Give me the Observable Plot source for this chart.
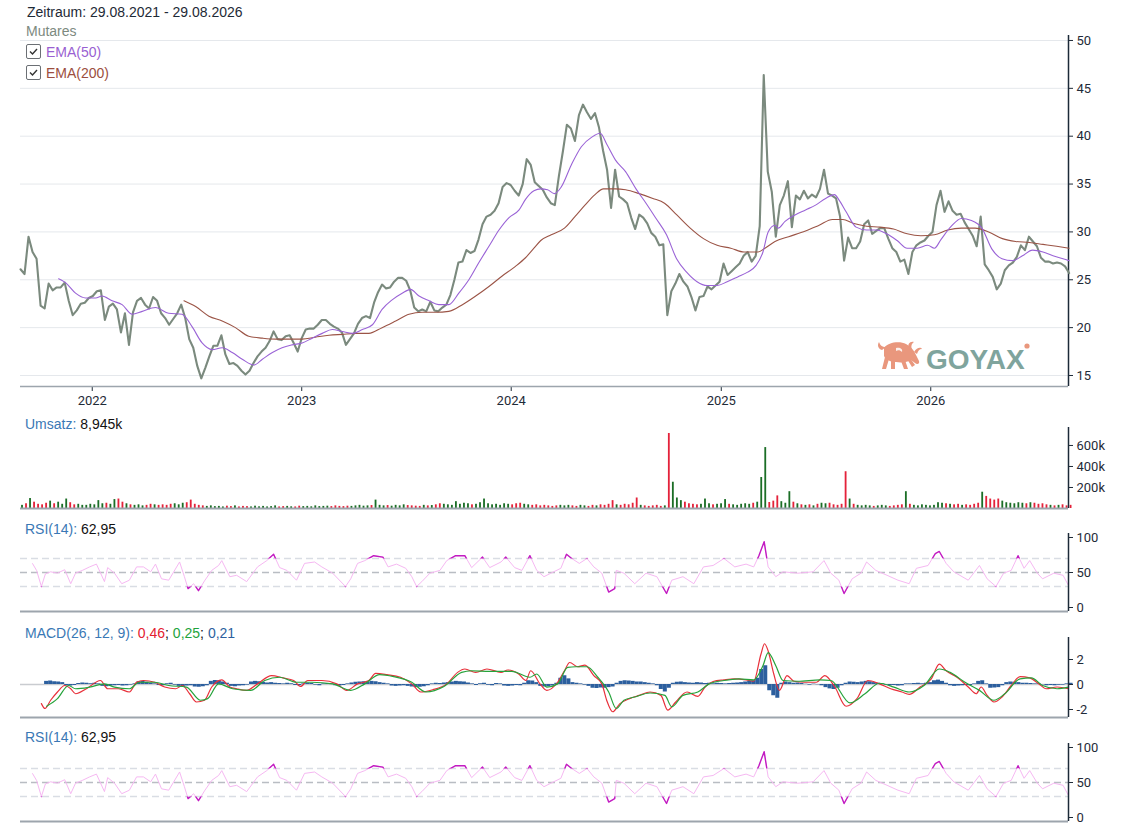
<!DOCTYPE html>
<html>
<head>
<meta charset="utf-8">
<script src="https://cdn.jsdelivr.net/npm/d3@7"></script>
<script src="https://cdn.jsdelivr.net/npm/@observablehq/plot@0.6"></script>
<style>
  html, body { margin: 0; padding: 0; background: #fff; }
  #wrap { position: relative; width: 1140px; height: 826px; overflow: hidden; font-family: "Liberation Sans", Arial, sans-serif; }
  .panel { position: absolute; left: 0; }
  .lbl { position: absolute; left: 25px; font-size: 14px; white-space: nowrap; z-index: 5; color: #111; }
  .blue { color: #3a78b5; }
  .chk { display: inline-block; width: 13px; height: 13px; border: 1px solid #6b6f74; border-radius: 2px; vertical-align: -2px; margin-right: 5px; position: relative; background: #fff; }
  .chk svg { position: absolute; left: 1px; top: 1px; }
</style>
</head>
<body>
<div id="wrap">
  <div class="lbl" style="top:4px;left:27px;color:#1e2a36;">Zeitraum: 29.08.2021 - 29.08.2026</div>
  <div class="lbl" style="top:23px;left:26px;color:#7d8a7f;">Mutares</div>
  <div class="lbl" style="top:44px;left:26px;color:#9a5fd2;"><span class="chk"><svg width="11" height="11" viewBox="0 0 11 11"><path d="M2,5.5 L4.5,8 L9,3" fill="none" stroke="#333" stroke-width="1.4"/></svg></span>EMA(50)</div>
  <div class="lbl" style="top:65px;left:26px;color:#9c4e40;"><span class="chk"><svg width="11" height="11" viewBox="0 0 11 11"><path d="M2,5.5 L4.5,8 L9,3" fill="none" stroke="#333" stroke-width="1.4"/></svg></span>EMA(200)</div>
  <div class="lbl" style="top:416px;"><span class="blue">Umsatz:</span> 8,945k</div>
  <div class="lbl" style="top:521px;"><span class="blue">RSI(14):</span> 62,95</div>
  <div class="lbl" style="top:625px;"><span class="blue">MACD(26, 12, 9):</span> <span style="color:#e3202f">0,46</span>; <span style="color:#1ea33c">0,25</span>; <span style="color:#2c5f9e">0,21</span></div>
  <div class="lbl" style="top:729px;"><span class="blue">RSI(14):</span> 62,95</div>
  <div id="logo" style="position:absolute;left:876px;top:338px;z-index:4;">
    <svg width="160" height="38" viewBox="0 0 160 38">
      <g fill="#e9977d">
        <path d="M6,12 C2,11 1,7 3,4 C4,7 6,9 10,9 Z"/>
        <path d="M8,10 C12,4 24,3 30,6 C34,8 37,11 39,15 L43,23 C44,26 41,27 39,25 L35,22 C32,24 26,25 20,24 C15,24 10,22 8,18 Z"/>
        <path d="M33,11 C31,6 34,3 38,4 C35,6 35,9 36,12 Z"/>
        <path d="M38,14 C41,9 45,9 46,11 C43,11 42,13 41,16 Z"/>
        <path d="M9,19 L6,31 L10,31 L13,21 Z"/>
        <path d="M15,22 L15,31 L19,31 L19,23 Z"/>
        <path d="M25,23 L28,31 L32,31 L29,22 Z"/>
        <path d="M31,21 L36,29 L39,27 L34,20 Z"/>
      </g>
      <g fill="#fff" opacity="0.85">
        <path d="M20,10 C24,9 27,11 26,14 C24,12 22,12 20,13 Z"/>
      </g>
      <text x="50" y="31" font-family="Liberation Sans, Arial, sans-serif" font-weight="bold" font-size="28" fill="#7fa49d">GOYAX</text>
      <circle cx="151" cy="8" r="2.6" fill="#e9977d"/>
    </svg>
  </div>
  <div id="p-main" class="panel" style="top:0px;"></div>
  <div id="p-vol" class="panel" style="top:410px;"></div>
  <div id="p-rsi1" class="panel" style="top:515px;"></div>
  <div id="p-macd" class="panel" style="top:620px;"></div>
  <div id="p-rsi2" class="panel" style="top:725px;"></div>
</div>
<script>
// ---------- DATA (weekly steps from 29.08.2021) ----------
const startDate = "2021-08-29";
const endDate = "2026-08-29";
const yearTicks = ["2022-01-01", "2023-01-01", "2024-01-01", "2025-01-01", "2026-01-01"];
const priceTicks = [15, 20, 25, 30, 35, 40, 45, 50];
const volTicks = [200, 400, 600];
const rsiTicks = [0, 50, 100];
const rsiLevels = [30, 50, 70];
const macdTicks = [-2, 0, 2];

// Mutares close, one value per week (index = week since start)
const price = [
  26.1, 25.6, 29.5, 27.9, 27.2, 22.3, 22.0, 24.6, 23.9, 24.2,
  24.2, 24.7, 22.8, 21.3, 21.8, 22.5, 22.6, 23.1, 23.3, 23.8,
  23.9, 20.8, 22.2, 22.5, 21.9, 19.5, 21.5, 18.2, 21.6, 22.8,
  23.1, 22.4, 22.0, 23.2, 22.8, 21.5, 21.0, 20.3, 20.9, 21.5,
  22.4, 21.0, 18.8, 17.9, 16.0, 14.7, 15.8, 17.0, 18.1, 18.1,
  19.2, 17.2, 16.2, 16.3, 16.0, 15.5, 15.1, 15.5, 16.3, 17.0,
  17.5, 17.9, 18.6, 19.6, 18.8, 18.7, 19.1, 19.2, 18.4, 17.5,
  18.9, 19.8, 19.9, 19.9, 20.3, 20.8, 20.8, 20.4, 20.1, 19.9,
  19.5, 18.2, 18.8, 19.4, 20.4, 21.0, 21.2, 21.0, 22.6, 23.7,
  24.5, 24.1, 24.2, 24.8, 25.2, 25.2, 24.9, 23.9, 22.1, 21.7,
  21.9, 21.7, 22.7, 21.8, 21.7, 22.1, 22.4, 23.4, 25.0, 26.8,
  26.9, 28.1, 27.8, 28.0, 29.2, 30.8, 31.6, 31.8, 32.2, 33.0,
  34.7, 35.1, 34.9, 34.3, 33.8, 35.0, 37.6, 37.0, 35.2, 34.8,
  34.4, 33.6, 33.0, 32.8, 35.8, 38.4, 41.2, 40.8, 39.5, 42.2,
  43.3, 42.5, 41.8, 42.4, 40.9, 38.5, 36.5, 32.5, 36.5, 33.7,
  33.4, 33.0, 31.5, 30.3, 31.8, 31.5, 30.9, 29.9, 29.5, 28.6,
  28.7, 21.3, 23.8, 24.6, 25.6, 24.8, 24.3, 23.2, 21.8, 23.2,
  23.3, 24.3, 24.0, 24.4, 24.8, 26.7, 25.5, 25.9, 26.3, 26.7,
  27.5, 27.9, 26.9, 27.5, 30.6, 46.4, 36.3, 34.2, 29.5, 32.8,
  33.8, 35.3, 30.5, 33.8, 33.4, 34.3, 33.5, 33.9, 33.6, 34.5,
  36.5, 34.0, 33.8, 33.5, 31.6, 27.0, 29.4, 28.3, 28.3, 29.0,
  30.8, 31.2, 29.8, 30.1, 30.4, 30.4, 29.3, 28.3, 27.9, 26.9,
  27.1, 25.6, 27.9, 28.6, 28.9, 29.1, 29.6, 30.0, 32.8, 34.3,
  32.1, 33.2, 32.2, 31.8, 31.9, 31.0, 30.3, 29.6, 28.5, 31.6,
  26.6, 26.0, 25.3, 24.0, 24.6, 26.0, 26.5, 26.8, 27.4, 28.6,
  28.1, 29.5, 29.0, 28.5, 27.3, 26.9, 26.9, 26.7, 26.8, 26.7,
  26.4, 25.7
];

// EMA(50): week index and value
const ema50Weeks = [9.5,11.2,13.7,16.2,18.7,20.3,22.8,25.3,27.8,30.3,33.6,36.9,40.2,42.7,45.2,47.7,50.2,52.7,55.2,58.1,60.2,62.7,65.1,67.6,70.1,72.6,75.1,77.6,80.1,82.6,85.1,87.6,90.0,92.5,95.0,97.1,99.2,101.7,104.1,106.6,109.1,111.6,114.1,116.6,119.1,121.6,124.1,125.7,127.8,
  129.5,131.2,132.9,134.6,137.1,139.6,142.2,144.3,146.0,148.1,150.6,153.2,155.7,158.2,160.8,163.3,165.8,168.4,170.9,173.4,175.9,178.5,181.0,183.1,184.8,186.1,187.8,188.6,190.3,192.9,195.4,197.9,200.4,202.6,203.8,205.5,208.0,210.6,213.1,215.6,218.2,220.7,223.2,225.8,227.5,229.1,231.7,234.2,236.7,239.3,241.8,244.3,246.9,249.4,251.9,254.5,257.0,259.5,261.0];
const ema50 = [25.1,24.7,23.6,23.1,23.1,23.3,22.8,22.4,21.4,21.7,22.1,21.5,21.4,20.1,18.4,17.7,17.9,17.4,16.7,16.1,16.7,17.4,17.9,18.2,18.4,18.9,19.4,19.8,19.6,19.4,19.8,20.3,21.9,22.9,23.6,24.0,23.3,22.8,22.4,22.4,23.6,25.0,26.8,28.5,30.2,31.5,32.3,33.4,34.3,
  34.5,34.4,34.0,34.7,37.0,38.9,39.9,40.3,39.1,37.5,36.3,34.5,33.0,31.4,29.7,27.2,25.8,24.8,24.4,24.4,24.8,25.3,25.8,26.5,27.9,30.0,30.7,30.4,31.1,31.8,32.3,32.8,33.5,33.9,33.3,32.1,30.5,30.2,30.2,29.8,29.1,28.3,28.3,28.6,28.3,29.2,30.6,31.4,31.2,30.4,28.2,27.2,27.0,27.5,28.1,27.9,27.5,27.2,27.0];

// EMA(200)
const ema200Weeks = [40.7,43.6,46.9,50.2,53.5,56.8,60.2,63.5,66.8,70.1,73.4,76.8,80.1,83.4,86.7,90.0,93.4,96.7,100.0,103.3,106.6,110.0,113.3,116.6,119.9,123.2,125.7,127.8,
  129.5,132.1,135.4,138.0,140.5,143.0,145.1,148.1,150.6,154.0,157.4,160.3,163.3,166.7,170.0,173.4,176.8,180.1,183.6,185.3,187.8,191.2,195.4,198.8,202.1,204.7,207.2,210.6,213.9,217.3,220.7,224.1,227.5,230.8,234.2,237.6,241.0,244.4,247.7,251.1,254.5,257.9,261.0];
const ema200 = [22.8,22.2,21.2,20.7,20.0,19.1,18.9,18.8,18.8,18.8,19.0,19.2,19.3,19.4,19.4,20.0,20.7,21.4,21.6,21.6,21.7,22.4,23.3,24.3,25.4,26.4,27.3,28.3,
  29.1,29.7,30.4,31.6,32.8,33.9,34.5,34.5,34.4,34.0,33.5,33.0,31.8,30.4,29.3,28.6,28.3,27.9,27.9,28.3,29.0,29.5,30.1,30.7,31.3,31.3,30.9,30.6,30.5,30.3,29.8,29.6,29.7,30.2,30.4,30.4,30.0,29.3,29.0,28.9,28.7,28.5,28.3];

// Umsatz (thousand shares), one value per week
const volume = [
  30, 45, 95, 60, 40, 35, 50, 70, 45, 60,
  40, 90, 55, 35, 40, 30, 30, 40, 35, 75,
  45, 50, 40, 85, 90, 60, 45, 35, 30, 35,
  25, 30, 40, 35, 30, 35, 30, 40, 45, 35,
  50, 55, 80, 40, 30, 25, 20, 25, 18, 20,
  15, 22, 18, 25, 15, 20, 18, 15, 22, 16,
  20, 15, 18, 25, 15, 18, 20, 16, 15, 22,
  18, 20, 16, 25, 18, 20, 22, 18, 25, 20,
  18, 22, 20, 25, 30, 22, 25, 28, 80, 30,
  25, 28, 22, 30, 25, 35, 28, 25, 22, 20,
  30, 25, 28, 35, 45, 40, 35, 30, 65, 40,
  50, 45, 35, 40, 55, 90, 45, 35, 40, 30,
  45, 40, 35, 45, 50, 40, 35, 30, 35, 25,
  30, 25, 20, 25, 30, 25, 30, 25, 20, 30,
  25, 20, 30, 25, 35, 30, 40, 75, 35, 30,
  40, 35, 50, 100, 30, 25, 20, 25, 30, 20,
  25, 714, 250, 100, 75, 60, 45, 40, 35, 40,
  90, 45, 35, 40, 45, 85, 40, 35, 30, 40,
  45, 40, 50, 60, 295, 580, 57, 70, 120, 65,
  50, 160, 60, 45, 35, 30, 35, 25, 40, 50,
  45, 50, 35, 30, 40, 350, 90, 40, 30, 25,
  30, 25, 20, 25, 30, 25, 20, 25, 30, 35,
  160, 40, 30, 25, 35, 30, 25, 30, 55, 50,
  45, 40, 35, 40, 30, 35, 30, 40, 50, 155,
  115, 90, 80, 90, 70, 55, 50, 45, 55, 50,
  45, 55, 50, 40, 45, 35, 30, 25, 30, 35,
  25, 30
];

// RSI(14)
const rsiWeeks = [3.0,4.0,5.2,6.2,7.5,9.2,11.0,12.5,13.7,15.4,17.2,18.9,20.9,21.7,23.4,25.2,27.1,28.9,30.6,32.4,33.6,35.1,36.9,39.6,40.8,41.7,43.1,44.3,45.8,47.6,49.3,50.1,52.1,53.8,56.3,59.0,61.3,63.0,64.5,66.3,68.7,70.7,73.2,75.0,77.7,80.9,82.2,83.9,85.7,87.9,90.2,91.5,93.6,95.9,97.4,98.6,99.9,101.9,104.4,106.1,108.3,110.6,112.3,115.0,116.8,119.6,120.8,123.0,124.8,126.8,128.5,130.3,132.0,
  134.5,135.9,137.2,139.1,141.0,142.7,144.7,146.4,147.9,148.3,150.2,152.9,155.7,158.4,160.8,162.1,164.9,167.6,170.0,172.4,175.1,177.8,180.6,182.5,183.8,185.1,186.1,188.0,189.8,193.5,197.3,200.0,201.7,203.7,205.0,207.0,209.2,210.6,212.9,215.7,218.4,221.2,223.0,225.9,227.7,228.7,230.4,232.3,235.9,238.7,240.6,242.8,244.7,246.6,248.3,249.8,251.2,253.1,254.4,257.2,259.5,260.8];
const rsi = [62.7,53,30,48,51,49,54,34,49,53,58,62,37,57,49,34,39,58,58,51,62,41,39,65,44,27,34,24,38,53,60,67,44,46,37,58,67,76,57,53,39,63,65,58,49,30,41,63,67,74,72,58,62,56,44,30,37,49,53,67,74,74,57,72,57,65,72,57,53,74,53,44,49,
  56,76,70,63,70,58,49,22,27,53,49,34,49,44,20,39,44,34,58,60,70,58,62,58,74,94,58,44,51,49,51,67,49,39,20,41,49,65,53,46,39,34,56,60,77,80,63,51,39,60,41,30,49,53,74,56,67,49,41,49,46,32];

// MACD line
const macdWeeks = [5.2,6.1,7.5,9.2,11.0,12.5,13.7,16.4,19.9,21.7,24.4,27.1,28.9,30.6,33.4,35.9,38.6,40.3,42.1,43.8,45.8,47.6,50.1,52.1,53.8,56.3,59.0,62.5,65.3,68.0,69.7,71.5,75.0,78.7,81.2,83.9,86.7,88.4,91.2,94.6,97.4,99.6,102.6,106.1,108.8,110.6,113.3,116.1,119.6,121.3,124.0,125.8,127.0,129.3,131.0,133.7,
  135.4,136.7,138.7,140.5,142.7,144.7,145.9,147.4,149.2,151.6,154.0,156.7,159.4,161.1,163.1,165.9,168.6,170.4,172.4,175.1,177.8,180.6,182.5,184.3,185.2,186.1,187.5,188.9,190.8,192.5,195.3,198.1,200.2,202.7,205.5,208.2,210.9,213.8,216.6,219.4,221.2,223.9,226.7,228.7,230.4,233.1,235.9,237.9,239.1,240.6,242.3,244.3,246.6,248.8,251.2,253.5,255.3,258.0,260.8];
const macd = [-1.53,-1.92,-1.26,-0.6,-0.08,-0.34,-0.74,-0.34,0.32,-0.34,-0.34,-0.6,0.18,0.32,0.18,-0.2,-0.34,-0.08,-0.74,-1.4,-1.26,-0.2,0.37,-0.2,-0.34,-0.47,0.05,0.71,0.53,0.32,-0.16,0.32,0.32,0.05,-0.47,0.05,0.32,0.89,0.79,0.58,0.05,-0.6,-0.42,0.05,0.97,1.24,0.97,1.24,0.97,1.16,0.84,0.32,1.1,0.05,-0.47,0.18,
  1.1,1.76,1.42,1.55,0.71,0.05,-1.26,-2.18,-1.53,-1.13,-0.87,-0.6,-0.87,-2.05,-1.4,-0.6,-0.95,-0.2,0.24,0.37,0.45,0.37,0.26,2.42,3.26,2.68,0.84,-0.47,0.71,0.26,0.18,0.18,0.71,-0.2,-1.74,-1.13,0.32,0.05,-0.34,-0.6,-0.79,-0.2,0.45,1.63,1.1,0.58,-0.2,-0.74,-0.2,-0.87,-1.4,-1.0,-0.08,0.63,0.53,0.05,-0.34,-0.2,-0.34];

// Signal line
const signalWeeks = [6.5,9.2,12.0,13.7,17.2,20.9,23.4,27.1,29.6,33.4,36.9,41.3,44.8,46.6,49.3,52.8,57.3,60.8,64.5,68.7,72.5,77.7,82.2,85.7,89.4,92.9,97.4,100.9,105.4,109.8,112.3,116.8,122.3,126.8,128.5,131.0,133.7,
  136.2,138.2,141.0,143.7,146.4,148.3,150.2,152.9,156.7,160.4,162.1,164.9,168.6,171.4,175.1,178.8,182.5,184.8,186.1,188.0,189.8,193.5,199.0,201.7,206.5,210.2,213.8,217.4,221.2,224.9,228.7,231.4,235.1,238.7,242.3,245.0,248.8,251.6,254.4,258.0,260.8];
const signal = [-1.74,-1.13,-0.08,-0.34,-0.21,0.05,-0.21,-0.34,0.18,0.18,-0.08,-0.21,-1.26,-1.13,0.05,-0.34,-0.47,0.32,0.58,0.18,0.18,0.05,-0.47,0.05,0.79,0.63,0.18,-0.6,-0.16,0.97,1.1,1.05,1.05,0.58,0.84,-0.21,0.05,
  1.37,1.42,1.42,0.58,-0.6,-1.92,-1.26,-1.0,-0.68,-0.87,-1.79,-0.87,-0.6,0.05,0.32,0.45,0.37,1.5,2.55,1.5,0.32,0.26,0.37,0.32,-1.47,-0.74,0.1,-0.21,-0.6,-0.08,1.24,0.97,0.18,-0.47,-1.26,-0.74,0.45,0.53,-0.08,-0.34,-0.21];

// MACD histogram, one value per week
const histogram = [
  null, null, null, null, null, null, 0.25, 0.28, 0.22, 0.2,
  0.15, -0.1, -0.12, -0.08, 0.08, 0.12, 0.1, 0.06, 0.1, 0.05,
  -0.15, -0.18, -0.12, -0.1, -0.08, -0.12, -0.1, -0.05, 0.05, 0.22,
  0.25, 0.18, 0.1, 0.05, -0.08, -0.1, 0.06, 0.1, -0.05, -0.15,
  -0.18, -0.12, -0.1, -0.2, -0.22, -0.18, -0.1, 0.25, 0.32, 0.3,
  0.2, 0.1, -0.15, -0.18, -0.12, -0.1, -0.05, 0.2, 0.25, 0.22,
  0.18, 0.12, 0.15, 0.1, 0.08, 0.05, 0.1, 0.06, -0.08, -0.1,
  0.05, 0.1, 0.08, -0.05, -0.1, 0.05, 0.08, 0.04, -0.1, -0.12,
  -0.08, 0.05, 0.12, 0.18, 0.2, 0.22, 0.18, 0.25, 0.22, 0.15,
  0.1, 0.05, -0.12, -0.15, -0.12, -0.1, -0.15, -0.2, -0.25, -0.22,
  -0.18, -0.1, 0.05, 0.1, 0.08, 0.12, 0.15, 0.2, 0.25, 0.22,
  0.2, 0.12, 0.05, -0.08, 0.06, 0.1, -0.06, -0.1, 0.08, 0.05,
  -0.12, -0.15, -0.12, -0.08, -0.1, 0.1, 0.3, 0.28, 0.15, -0.15,
  -0.2, -0.18, -0.12, 0.1, 0.5, 0.7, 0.45, 0.15, 0.1, 0.05,
  -0.05, -0.15, -0.3, -0.32, -0.28, -0.3, -0.25, -0.2, 0.1, 0.25,
  0.3, 0.28, 0.25, 0.2, 0.2, 0.15, 0.1, 0.05, -0.1, -0.4,
  -0.6, -0.3, 0.1, 0.18, 0.2, 0.15, 0.12, 0.1, 0.15, 0.12,
  0.08, 0.1, 0.06, 0.1, 0.08, 0.05, 0.08, 0.1, 0.12, 0.15,
  0.2, 0.25, 0.3, 0.5, 1.2, 1.5, -0.5, -0.9, -1.1, 0.1,
  0.2, 0.15, 0.1, 0.12, 0.08, 0.02, -0.05, 0.03, -0.02, -0.1,
  -0.25, -0.35, -0.4, -0.3, -0.1, 0.1, 0.2, 0.18, 0.15, 0.2,
  0.25, 0.22, 0.15, 0.1, 0.05, -0.05, -0.1, -0.08, -0.12, -0.1,
  0.05, 0.05, 0.08, 0.1, 0.06, 0.1, 0.15, 0.3, 0.35, 0.25,
  0.1, -0.1, -0.15, -0.12, -0.1, -0.08, -0.1, 0.05, 0.25, 0.3,
  0.05, -0.3, -0.28, -0.25, -0.1, 0.15, 0.2, 0.18, 0.15, 0.1,
  0.1, 0.08, 0.05, 0.06, -0.02, -0.1, -0.08, -0.1, -0.06, -0.05,
  0.05, 0.1
];

// ---------- BUILD ----------
const t0 = new Date(startDate + "T00:00:00Z").getTime();
const xEnd = new Date(endDate + "T00:00:00Z");
const xStart = new Date(t0);
const wk = w => new Date(t0 + w * 7 * 864e5);
const yTicksDates = yearTicks.map(s => new Date(s + "T00:00:00Z"));

const priceData = price.map((v, i) => ({date: wk(i), v}));
const pairs = (ws, vs) => ws.map((w, i) => ({date: wk(w), v: vs[i]}));
const ema50Data = pairs(ema50Weeks, ema50);
const ema200Data = pairs(ema200Weeks, ema200);
const volData = volume.map((v, i) => ({x1: wk(i), x2: wk(i + 1), v, up: i === 0 || price[i] >= price[i - 1]}));
const rsiData = pairs(rsiWeeks, rsi);
const macdData = pairs(macdWeeks, macd);
const signalData = pairs(signalWeeks, signal);
const histData = histogram.map((v, i) => ({x1: wk(i), x2: wk(i + 1), v})).filter(d => d.v !== null);

const W = 1140, ML = 20, MR = 72;
const baseStyle = {fontFamily: "Roboto, 'Liberation Sans', sans-serif", fontSize: "13px", color: "#1f2b38", background: "transparent", overflow: "visible"};
const xHidden = {type: "utc", domain: [xStart, xEnd], axis: null};

// Main price panel
const yMainDom = [13.85, 50.52];
const main = Plot.plot({
  width: W, height: 410, marginLeft: ML, marginRight: MR, marginTop: 35, marginBottom: 24,
  style: baseStyle,
  x: {type: "utc", domain: [xStart, xEnd], ticks: yTicksDates, tickFormat: d3.utcFormat("%Y"), tickSize: 5, tickPadding: 4, label: null},
  y: {domain: yMainDom, axis: "right", ticks: priceTicks, tickSize: 4, tickPadding: 4, label: null},
  marks: [
    Plot.ruleY(priceTicks, {stroke: "#e5e8ec", strokeWidth: 1}),
    Plot.ruleY([yMainDom[0]], {stroke: "#9da5ad", strokeWidth: 1.5}),
    Plot.ruleX([xEnd], {stroke: "#1c2a38", strokeWidth: 1.5}),
    Plot.line(priceData, {x: "date", y: "v", stroke: "#7b8a7e", strokeWidth: 2.1, strokeLinejoin: "round"}),
    Plot.line(ema200Data, {x: "date", y: "v", stroke: "#9b5446", strokeWidth: 1.1, curve: "monotone-x"}),
    Plot.line(ema50Data, {x: "date", y: "v", stroke: "#9a63d6", strokeWidth: 1.1, curve: "monotone-x"})
  ]
});
document.getElementById("p-main").appendChild(main);

// Volume panel
const volMax = 771;
const vol = Plot.plot({
  width: W, height: 100, marginLeft: ML, marginRight: MR, marginTop: 17, marginBottom: 2,
  style: baseStyle,
  x: xHidden,
  y: {domain: [0, volMax], axis: "right", ticks: volTicks, tickFormat: d => d + "k", tickSize: 4, tickPadding: 4, label: null},
  marks: [
    Plot.rect(volData, {x1: "x1", x2: "x2", y1: 0, y2: "v", fill: d => d.up ? "#1b6e26" : "#e4223a", insetLeft: 1.1, insetRight: 1.1}),
    Plot.ruleY([0], {stroke: "#9da5ad", strokeWidth: 2}),
    Plot.ruleX([xEnd], {stroke: "#1c2a38", strokeWidth: 1.5})
  ]
});
document.getElementById("p-vol").appendChild(vol);

// RSI panels
let clipCount = 0;
function rsiPlot(mb) {
  const dom = [-5.7, 105.7];
  const svg = Plot.plot({
    width: W, height: 100, marginLeft: ML, marginRight: MR, marginTop: 18, marginBottom: mb,
    style: baseStyle,
    x: xHidden,
    y: {domain: dom, axis: "right", ticks: rsiTicks, tickSize: 4, tickPadding: 4, label: null},
    marks: [
      Plot.ruleY(rsiLevels, {stroke: d => d === 50 ? "#b9bdc3" : "#d9dde4", strokeWidth: 1.6, strokeDasharray: "7,4"}),
      Plot.line(rsiData, {x: "date", y: "v", stroke: "#f6b8f2", strokeWidth: 1}),
      Plot.line(rsiData, {x: "date", y: "v", stroke: "#c21cc2", strokeWidth: 1.4}),
      Plot.ruleY([dom[0]], {stroke: "#9da5ad", strokeWidth: 2}),
      Plot.ruleX([xEnd], {stroke: "#1c2a38", strokeWidth: 1.5})
    ]
  });
  // show the strong colour only above 70 and below 30
  const y = svg.scale("y");
  const y70 = y.apply(70), y30 = y.apply(30);
  const ns = "http://www.w3.org/2000/svg";
  const id = "rsiclip" + (clipCount++);
  const defs = document.createElementNS(ns, "defs");
  const cp = document.createElementNS(ns, "clipPath");
  cp.setAttribute("id", id);
  [[0, y70], [y30, 200]].forEach(([a, b]) => {
    const r = document.createElementNS(ns, "rect");
    r.setAttribute("x", 0); r.setAttribute("y", a);
    r.setAttribute("width", W); r.setAttribute("height", Math.max(0, b - a));
    cp.appendChild(r);
  });
  defs.appendChild(cp);
  svg.insertBefore(defs, svg.firstChild);
  const lines = [...svg.querySelectorAll('g[aria-label="line"]')];
  const strong = lines.find(g => (g.getAttribute("stroke") || "").toLowerCase() === "#c21cc2") || lines[lines.length - 1];
  if (strong) strong.setAttribute("clip-path", `url(#${id})`);
  return svg;
}
document.getElementById("p-rsi1").appendChild(rsiPlot(4));

// MACD panel
const macdDom = [-2.64, 3.76];
const macdSvg = Plot.plot({
  width: W, height: 100, marginLeft: ML, marginRight: MR, marginTop: 17, marginBottom: 3,
  style: baseStyle,
  x: xHidden,
  y: {domain: macdDom, axis: "right", ticks: macdTicks, tickFormat: d => String(d), tickSize: 4, tickPadding: 4, label: null},
  marks: [
    Plot.ruleY([0], {stroke: "#c9ccd0", strokeWidth: 1.5}),
    Plot.rect(histData, {x1: "x1", x2: "x2", y1: 0, y2: "v", fill: "#2c5f9e"}),
    Plot.line(macdData, {x: "date", y: "v", stroke: "#e8303a", strokeWidth: 1.2, curve: "monotone-x"}),
    Plot.line(signalData, {x: "date", y: "v", stroke: "#26a33b", strokeWidth: 1.2, curve: "monotone-x"}),
    Plot.ruleY([macdDom[0]], {stroke: "#9da5ad", strokeWidth: 2}),
    Plot.ruleX([xEnd], {stroke: "#1c2a38", strokeWidth: 1.5})
  ]
});
document.getElementById("p-macd").appendChild(macdSvg);

document.getElementById("p-rsi2").appendChild(rsiPlot(4));
</script>
</body>
</html>
